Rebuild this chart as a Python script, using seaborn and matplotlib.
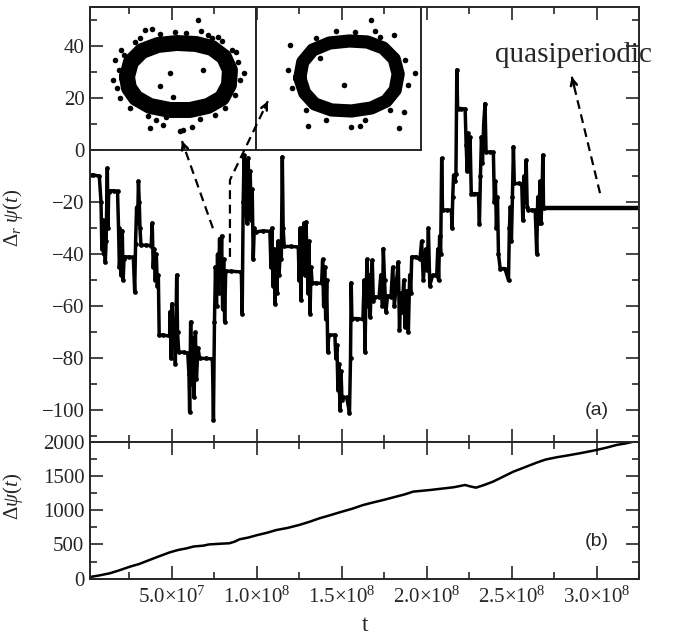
import matplotlib
matplotlib.use("Agg")
import matplotlib.pyplot as plt
import seaborn as sns
import pandas as pd
from matplotlib.ticker import MultipleLocator, FixedLocator, FixedFormatter

# ---------------- data ----------------
# panel (a): chaotic stage, t in units of 1e6
t_chaotic = [2, 4, 7.5, 8.5, 9.0, 9.5, 10, 10.5, 11, 11.5, 12.2, 12.6, 13, 14, 16, 18.2,
             18.8, 19.3, 19.8, 20.3, 21, 21.5, 22, 22.5, 25, 27.5, 28.3, 28.8, 29.4, 30,
             30.5, 31, 31.4, 32, 35, 38, 38.6, 39.2, 39.8, 40.4, 41, 41.6, 42.2, 42.7, 45,
             48.8, 49.2, 49.7, 50.3, 51, 51.6, 52.2, 53, 53.5, 54.2, 57, 59.5, 60.2, 60.6,
             61.2, 61.8, 62.4, 63.2, 64, 64.6, 65.5, 66.5, 70, 74, 74.6, 75.2, 75.8, 76.4,
             77, 77.6, 78.2, 78.8, 79.4, 80, 80.6, 81.2, 81.8, 85, 91, 91.5, 92.1, 92.6,
             93.2, 93.8, 94.4, 95, 95.6, 96.2, 96.8, 97.4, 98, 98.6, 99.5, 104, 107.8,
             108.4, 109, 109.6, 110.2, 110.8, 111.4, 112, 112.6, 113.2, 113.8, 114.5, 115.1,
             115.6, 116.2, 120, 124.5, 125, 125.5, 126, 126.6, 127.2, 127.8, 128.4, 129,
             129.6, 130.2, 130.8, 131.4, 132, 132.6, 135, 138.2, 138.8, 139.4, 140, 140.6,
             141.2, 141.8, 142.4, 146, 146.6, 147.2, 147.8, 148.4, 149, 149.6, 150.2, 151,
             153, 154.6, 155.2, 155.6, 156, 159, 162.5, 163.2, 163.7, 164.3, 165, 165.6,
             166.2, 166.8, 167.4, 168, 168.6, 169.5, 172, 173, 174, 174.5, 175.2, 176, 177,
             179, 180, 181, 182, 183.3, 184, 184.8, 185.5, 186.5, 187.3, 188.2, 189.2, 190,
             190.6, 191.2, 194, 196, 197, 198, 199.4, 200.3, 201, 201.8, 203.5, 205.9,
             206.5, 207, 207.6, 208.2, 208.8, 209.3, 212, 214.5, 214.9, 215.3, 215.8, 216.5,
             217.2, 217.7, 218.2, 220, 222.6, 223.2, 223.8, 224.4, 225, 225.5, 226.2, 228,
             230.4, 231, 231.6, 232.2, 232.8, 233.5, 234.3, 234.9, 237, 239.2, 239.8, 240.4,
             241, 241.6, 242.2, 243.2, 246, 248.1, 248.6, 249.2, 249.8, 250.4, 251, 251.5,
             254, 255.9, 256.5, 257.2, 257.9, 258.5, 259.1, 259.8, 262, 263.8, 264.7, 265.3,
             266, 266.6, 267.2, 267.7, 268.3, 268.7]
dr_psi = [-9.6, -9.5, -10, -20, -38, -27, -40, -30, -43, -35, -7, -30, -16, -15.6, -15.6, -15.8,
          -30, -45, -38, -48, -31, -50, -42, -41, -41, -41.2, -54.5, -36, -22, -28,
          -12, -20, -30, -36.5, -36.5, -36.7, -28, -45, -38, -50, -40, -52, -48, -71, -71,
          -71.5, -62, -80, -59, -75, -66, -82, -48, -70, -77.6, -77.6, -78, -86, -100.5,
          -66, -90, -72, -95, -70, -88, -76, -80, -80, -80.2, -103.5, -66, -45, -60,
          -40, -55, -34, -50, -33, -61, -42, -66, -46.5, -46.5, -46.8, -63, -20, -2,
          -25, -10, -28, -3, -18, -8, -27, -15, -42, -30, -31.4, -31, -31.2,
          -45, -30, -52, -38, -59, -42, -55, -35, -48, -40, -42, -2.6,
          -30, -37, -37, -37.2, -50, -30, -57.7, -30, -45, -28, -48, -27.6,
          -40, -55, -35, -62.8, -45, -51, -51, -51.2, -42, -60, -45, -65,
          -50, -77.5, -71, -71, -80, -75, -92, -82, -100, -85, -96, -95,
          -95, -101, -80, -51, -64.7, -64.7, -65, -50, -77.5, -55, -42, -60,
          -48, -64, -50, -42.3, -58, -56.4, -56.4, -48, -60, -37.8, -50, -62, -56,
          -56.4, -45, -60, -52, -43, -69, -55, -62, -50, -68, -54, -70, -48,
          -55, -41, -41, -42, -35, -50, -38, -46, -30, -52, -48, -48.2,
          -38, -50, -33, -40, -3.2, -23, -23, -23.1, -30, -18, -9.6, -12,
          -9, 30.8, 16, 16, 15.8, 2, -8, 6.4, -7.7, 5, -16.7, -16.7,
          -16.8, -28.2, -10, 5, -5, 10, 17.9, -0.7, -0.7, -0.8, -20, -12,
          -30, -18, -39.8, -45.5, -45.5, -50, -30, -22, -35, -18, 1.3, -12.8,
          -12.8, -13, -27, -10, -20, -3.9, -22, -23, -23, -23.1, -39.8, -18,
          -28, -12, -28, -20, -1.9, -22.4]
# quasiperiodic stage
t_quasi = [268.7, 325.0]
dr_quasi = [-22.4, -22.4]

# panel (b)
t_drift = [2, 7, 13.7, 19, 25.5, 31, 37, 43, 49, 54, 58.8, 63, 68.5, 72, 76.5, 80, 84, 87,
           90, 95, 100, 106, 111.7, 118, 125, 131, 137, 143, 149, 156, 162.7, 168, 174.5,
           182, 187, 192, 197, 202, 209, 215.6, 219, 222.5, 226, 229, 234, 239, 245, 251,
           258, 264.7, 270, 276.5, 283, 290, 295, 300, 306, 311.7, 317, 321.5, 325]
dpsi = [25, 45, 79, 120, 175, 215, 273, 330, 385, 420, 443, 470, 482, 500, 507, 512, 517,
        540, 575, 600, 634, 670, 711, 740, 784, 830, 882, 925, 970, 1020, 1076, 1110, 1149,
        1198, 1230, 1271, 1283, 1295, 1315, 1334, 1350, 1368, 1345, 1329, 1370, 1417, 1490,
        1563, 1630, 1695, 1740, 1773, 1800, 1831, 1855, 1880, 1915, 1953, 1975, 2000, 2010]

# insets: phase-plane rings (centre line of the dense band) and scattered points
ringL_x = [37, 41, 52, 68, 87, 106, 122, 134, 140, 139, 132, 118, 100, 80, 60, 46, 39, 37]
ringL_y = [73, 88, 99, 105, 107, 106, 102, 93, 80, 65, 52, 44, 40, 40, 44, 52, 62, 73]
dotsL_x = [108, 111, 122, 132, 146, 154, 23, 25, 31, 60, 73, 76, 90, 93, 102, 80, 70, 113,
           83, 55, 62, 27, 29, 34, 45, 50, 118, 128, 142, 148, 150, 145, 135, 125, 110,
           66, 58, 40, 30, 96, 85, 70]
dotsL_y = [130, 119, 112, 109, 98, 77, 70, 90, 100, 22, 25, 33, 19, 20, 23, 77, 64, 80,
           53, 120, 121, 62, 80, 95, 108, 112, 115, 113, 100, 88, 70, 55, 42, 35, 31,
           30, 34, 42, 52, 117, 118, 116]
ringR_x = [44, 47, 57, 74, 94, 112, 128, 139, 143, 140, 131, 116, 96, 76, 59, 49, 44]
ringR_y = [72, 88, 100, 107, 109, 108, 102, 91, 76, 60, 49, 42, 39, 40, 46, 57, 72]
dotsR_x = [116, 160, 144, 96, 105, 52, 89, 64, 34, 139, 149, 32, 36, 60, 80, 120, 150,
           153, 135, 110, 70, 50, 100, 125]
dotsR_y = [130, 77, 22, 23, 24, 24, 65, 92, 105, 115, 38, 80, 62, 112, 119, 119, 90,
           65, 40, 30, 30, 40, 118, 113]

xtick_vals = [50, 100, 150, 200, 250, 300]
xtick_labels = ["5.0×10$^{7}$", "1.0×10$^{8}$", "1.5×10$^{8}$",
                "2.0×10$^{8}$", "2.5×10$^{8}$", "3.0×10$^{8}$"]

# ---------------- style ----------------
sns.set_style("ticks")
plt.rcParams["font.family"] = ["Liberation Serif", "DejaVu Serif"]
plt.rcParams["mathtext.fontset"] = "custom"
plt.rcParams["mathtext.rm"] = "Liberation Serif"
plt.rcParams["mathtext.it"] = "Liberation Serif:italic"
plt.rcParams["mathtext.bf"] = "Liberation Serif:bold"

fig = plt.figure(figsize=(6.78, 6.35), dpi=100)
fig.patch.set_facecolor("white")

ax1 = fig.add_axes([0.1327, 0.3044, 0.8102, 0.6846], zorder=3)
ax2 = fig.add_axes([0.1327, 0.0887, 0.8102, 0.2157], zorder=3)
insL = fig.add_axes([0.1327, 0.7638, 0.2448, 0.2252], zorder=1)
insR = fig.add_axes([0.3776, 0.7638, 0.2434, 0.2252], zorder=1)
ax1.patch.set_alpha(0)

df_a = pd.DataFrame({"t": [v * 1e6 for v in t_chaotic], "d": dr_psi})
df_q = pd.DataFrame({"t": [v * 1e6 for v in t_quasi], "d": dr_quasi})
df_b = pd.DataFrame({"t": [v * 1e6 for v in t_drift], "d": dpsi})

sns.lineplot(data=df_a, x="t", y="d", ax=ax1, color="black", lw=2.5, sort=False,
             estimator=None, marker="o", ms=3.4, mec="black", mew=0)
sns.lineplot(data=df_q, x="t", y="d", ax=ax1, color="black", lw=3.2, sort=False, estimator=None)
sns.lineplot(data=df_b, x="t", y="d", ax=ax2, color="black", lw=1.8, sort=False, estimator=None)

xlim = (2e6, 3.25e8)
for ax in (ax1, ax2):
    ax.set_xlim(*xlim)
    ax.xaxis.set_major_locator(FixedLocator([v * 1e6 for v in xtick_vals]))
    ax.xaxis.set_minor_locator(MultipleLocator(2.5e7))
    ax.tick_params(which="both", direction="in", top=True, right=True,
                   width=1.2, labelsize=15, pad=4)
    ax.tick_params(which="major", length=9.5)
    ax.tick_params(which="minor", length=5)
    for s in ax.spines.values():
        s.set_linewidth(1.4)
    ax.set_xlabel("")
    ax.set_ylabel("")

ax1.set_ylim(-112, 55)
ax1.yaxis.set_major_locator(MultipleLocator(20))
ax1.yaxis.set_minor_locator(MultipleLocator(10))
ax1.tick_params(labelbottom=False)

ax2.set_ylim(0, 2000)
ax2.yaxis.set_major_locator(MultipleLocator(500))
ax2.yaxis.set_minor_locator(MultipleLocator(250))
ax2.xaxis.set_major_formatter(FixedFormatter(xtick_labels))
ax2.tick_params(axis="x", pad=6)

ax1.set_ylabel(r"$\Delta_r\ \psi(t)$", fontsize=15)
ax1.yaxis.set_label_coords(-0.118, 0.515)
ax2.set_ylabel(r"$\Delta\psi(t)$", fontsize=15)
ax2.yaxis.set_label_coords(-0.118, 0.6)
ax2.set_xlabel("t", fontsize=17, labelpad=0)
ax2.xaxis.set_label_coords(0.5, -0.265)

ax1.text(300e6, -100, "(a)", family="Liberation Sans", fontsize=14, ha="center", va="center")
ax2.text(300e6, 540, "(b)", family="Liberation Sans", fontsize=14, ha="center", va="center")
ax1.text(240e6, 34, "quasiperiodic", fontsize=21, ha="left", va="baseline", clip_on=False)

# dashed arrows
dash = (0, (4, 2.5))
def dashed_arrow(xs, ys):
    ax1.plot(xs, ys, color="black", lw=1.6, ls=dash, clip_on=False, zorder=5)
    ax1.annotate("", xy=(xs[-1], ys[-1]),
                 xytext=(xs[-1] - (xs[-1] - xs[-2]) * 0.08, ys[-1] - (ys[-1] - ys[-2]) * 0.08),
                 arrowprops=dict(arrowstyle="->", color="black", lw=1.8, mutation_scale=11,
                                 shrinkA=0, shrinkB=0), zorder=6)

dashed_arrow([74.3e6, 56.1e6], [-30, 3.5])
dashed_arrow([84.3e6, 84.3e6, 106.6e6], [-41, -11.5, 18.8])
dashed_arrow([301.9e6, 285.3e6], [-16.5, 28.2])

# insets
for ins, rx, ry, dx, dy, lw in ((insL, ringL_x, ringL_y, dotsL_x, dotsL_y, 11.5),
                                (insR, ringR_x, ringR_y, dotsR_x, dotsR_y, 9.5)):
    ins.set_facecolor("white")
    sns.lineplot(x=rx, y=ry, ax=ins, color="black", lw=lw, sort=False, estimator=None,
                 solid_joinstyle="round", solid_capstyle="round")
    sns.scatterplot(x=dx, y=dy, ax=ins, color="black", s=16, linewidth=0)
    ins.set_xlim(0, 166)
    ins.set_ylim(0, 143)
    ins.set_xticks([])
    ins.set_yticks([])
    for s in ins.spines.values():
        s.set_linewidth(1.4)
        s.set_visible(True)

fig.savefig("out.png", dpi=100, facecolor="white")
